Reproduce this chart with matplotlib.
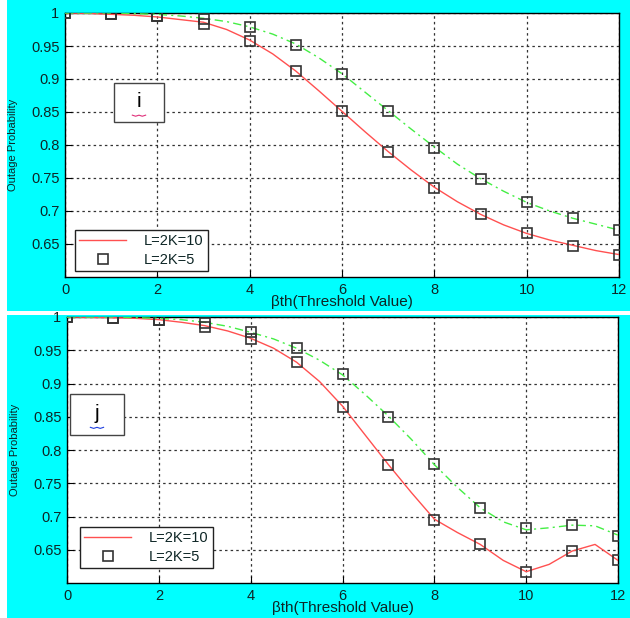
import matplotlib
matplotlib.use("Agg")
import matplotlib.pyplot as plt
from matplotlib.patches import Rectangle
from matplotlib.lines import Line2D

plt.rcParams['font.family'] = ['Liberation Sans', 'DejaVu Sans']

# ---------------- data ----------------
x_int = [0, 1, 2, 3, 4, 5, 6, 7, 8, 9, 10, 11, 12]
x_half = [0, 0.5, 1, 1.5, 2, 2.5, 3, 3.5, 4, 4.5, 5, 5.5, 6, 6.5, 7, 7.5,
          8, 8.5, 9, 9.5, 10, 10.5, 11, 11.5, 12]

# panel i
i_red_line = [1.0, 0.9995, 0.998, 0.9965, 0.994, 0.990, 0.986, 0.975, 0.959,
              0.938, 0.912, 0.882, 0.851, 0.820, 0.790, 0.762, 0.736, 0.714,
              0.695, 0.679, 0.666, 0.656, 0.648, 0.640, 0.634]
i_green_line = [1.0, 1.0, 1.0, 0.999, 0.998, 0.9955, 0.992, 0.987, 0.979,
                0.968, 0.953, 0.932, 0.908, 0.880, 0.852, 0.824, 0.797, 0.771,
                0.749, 0.730, 0.713, 0.700, 0.689, 0.680, 0.671]
i_sq_low = [1.0, 0.998, 0.996, 0.984, 0.958, 0.9125, 0.851, 0.790, 0.7355,
            0.695, 0.666, 0.647, 0.634]
i_sq_high = [1.0, 0.999, 0.996, 0.991, 0.979, 0.952, 0.9075, 0.851, 0.796,
             0.748, 0.713, 0.689, 0.671]

# panel j
j_red_line = [1.0, 0.9995, 0.999, 0.998, 0.996, 0.992, 0.987, 0.979, 0.968,
              0.953, 0.932, 0.903, 0.866, 0.822, 0.778, 0.736, 0.696, 0.676,
              0.658, 0.634, 0.617, 0.628, 0.648, 0.658, 0.634]
j_green_line = [1.0, 1.0, 1.0, 0.999, 0.998, 0.996, 0.992, 0.986, 0.977,
                0.967, 0.953, 0.935, 0.913, 0.883, 0.851, 0.816, 0.778, 0.744,
                0.713, 0.692, 0.680, 0.683, 0.687, 0.686, 0.672]
j_sq_low = [1.0, 0.9986, 0.996, 0.9846, 0.967, 0.932, 0.8646, 0.777, 0.695,
            0.658, 0.617, 0.648, 0.634]
j_sq_high = [1.0, 0.9986, 0.996, 0.991, 0.9776, 0.9536, 0.914, 0.850, 0.779,
             0.7125, 0.683, 0.687, 0.671]

x_ticks = [0, 2, 4, 6, 8, 10, 12]
y_ticks = [0.65, 0.7, 0.75, 0.8, 0.85, 0.9, 0.95, 1.0]
y_tick_labels = ['0.65', '0.7', '0.75', '0.8', '0.85', '0.9', '0.95', '1']
legend_labels = ['L=2K=10', 'L=2K=5']
xlabel = 'βth(Threshold Value)'
ylabel = 'Outage Probability'
panel_labels = ['i', 'j']

# ---------------- figure ----------------
CYAN = '#00FFFF'
fig = plt.figure(figsize=(6.3, 6.18), dpi=100, facecolor=CYAN)

# white decorative strips
fig.patches.append(Rectangle((0, 0), 7 / 630, 1, transform=fig.transFigure,
                             facecolor='white', edgecolor='none', zorder=-5))
fig.patches.append(Rectangle((0, 1 - 315 / 618), 1, 4 / 618, transform=fig.transFigure,
                             facecolor='white', edgecolor='none', zorder=-5))

axes_rects = [
    [65 / 630, 1 - 277 / 618, 554 / 630, 264 / 618],
    [67 / 630, 1 - 583 / 618, 551 / 630, 266 / 618],
]
panels = [
    (i_red_line, i_green_line, i_sq_low, i_sq_high),
    (j_red_line, j_green_line, j_sq_low, j_sq_high),
]
label_boxes = [
    ((0.0884, 0.587), 0.0903, 0.148, '#e0307a'),
    ((0.0054, 0.556), 0.098, 0.1545, '#2040e0'),
]
legend_anchor = [(0.018, 0.0227), (0.0236, 0.056)]

TXT = '#0e2626'
for k, ax_rect in enumerate(axes_rects):
    ax = fig.add_axes(ax_rect)
    red, green, sq_lo, sq_hi = panels[k]
    ax.plot(x_half, red, color='#ff5050', lw=1.0, zorder=3)
    ax.plot(x_half, green, color='#44ee44', lw=1.0, linestyle=(0, (6, 3, 1.5, 3)), zorder=3)
    ms = dict(marker='s', markersize=7, markerfacecolor='none',
              markeredgecolor='#333333', markeredgewidth=1.2, linestyle='none', zorder=4)
    ax.plot(x_int, sq_lo, **ms)
    ax.plot(x_int, sq_hi, **ms)

    ax.set_xlim(0, 12)
    ax.set_ylim(0.6, 1.0)
    ax.set_xticks(x_ticks)
    ax.set_yticks(y_ticks)
    ax.set_yticklabels(y_tick_labels)
    ax.tick_params(direction='in', length=5, width=0.8, colors='black',
                   labelcolor=TXT, labelsize=10.5, pad=4)
    ax.grid(True, color='#333333', linestyle=(0, (2, 2.5)), linewidth=0.9)
    for sp in ax.spines.values():
        sp.set_linewidth(1.0)
        sp.set_color('black')
    ax.set_xlabel(xlabel, fontsize=11, color=TXT, labelpad=-1)
    ax.set_ylabel(ylabel, fontsize=8, color=TXT, labelpad=9)

    (bx, by), bw, bh, sq_col = label_boxes[k]
    ax.add_patch(Rectangle((bx, by), bw, bh, transform=ax.transAxes,
                           facecolor='white', edgecolor='#444444', lw=1.0, zorder=6))
    cx = bx + bw / 2
    cy = by + bh / 2
    ax.text(cx, cy + 0.005, panel_labels[k], transform=ax.transAxes, ha='center',
            va='center', fontsize=15, color='black', zorder=7)
    ax.plot([cx - 0.012, cx - 0.006, cx, cx + 0.006, cx + 0.012],
            [cy - 0.048, cy - 0.052, cy - 0.048, cy - 0.052, cy - 0.048],
            transform=ax.transAxes, color=sq_col, lw=0.8, zorder=7)

    handles = [Line2D([], [], color='#ff5050', lw=1.0),
               Line2D([], [], marker='s', markersize=7, markerfacecolor='none',
                      markeredgecolor='#333333', markeredgewidth=1.2, linestyle='none')]
    leg = ax.legend(handles, legend_labels, loc='lower left',
                    bbox_to_anchor=legend_anchor[k], borderaxespad=0,
                    fontsize=10.5, frameon=True, fancybox=False, framealpha=1,
                    edgecolor='#222222', handlelength=3.2, borderpad=0.3,
                    labelspacing=0.3, handletextpad=1.2)
    leg.get_frame().set_linewidth(1.0)
    for t in leg.get_texts():
        t.set_color(TXT)
    leg.set_zorder(8)

fig.savefig('out.png', dpi=100, facecolor=CYAN)
